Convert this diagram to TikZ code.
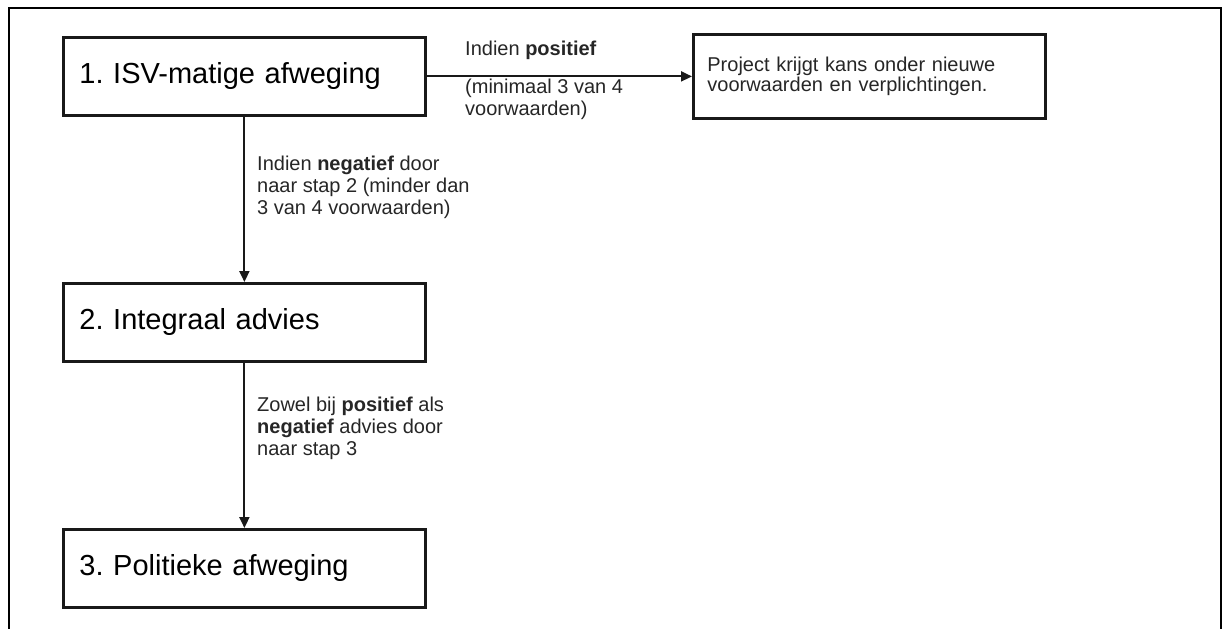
\documentclass[tikz,border=0pt]{standalone}
\usepackage{fontspec}
\setmainfont{Liberation Sans}
\usetikzlibrary{arrows.meta}
\frenchspacing
\begin{document}
\begin{tikzpicture}[x=1pt,y=-1pt,
  stepbox/.style={draw=black!90,line width=2.8pt,rectangle,inner xsep=16pt,inner ysep=0pt,
    minimum width=362pt,minimum height=78pt,text width=330pt,align=left,
    font=\fontsize{29}{34}\selectfont,anchor=north west},
  resbox/.style={draw=black!90,line width=2.8pt,rectangle,inner xsep=14pt,inner ysep=0pt,
    minimum width=352pt,minimum height=84pt,text width=324pt,align=left,
    font=\fontsize{20}{20}\selectfont,text=black!85,anchor=north west},
  lbl/.style={inner sep=0pt,align=left,anchor=west,text=black!85,
    font=\fontsize{20}{22}\selectfont},
  conn/.style={draw=black!90,line width=2pt,-{Triangle[length=11pt,width=10pt]}}]
\useasboundingbox (0,0) rectangle (1224,629);
\draw[line width=2.6pt] (9,660) -- (9,8) -- (1221,8) -- (1221,660);
\node[stepbox] (s1) at (62,36) {1. ISV-matige afweging};
\node[stepbox] (s2) at (62,282) {2. Integraal advies};
\node[stepbox] (s3) at (62,528) {3. Politieke afweging};
\node[resbox] (r) at (692,33) {Project krijgt kans onder nieuwe\\voorwaarden en verplichtingen.};
\draw[conn] (s1.east) -- (r.west |- s1.east);
\draw[conn] (s1.south) -- (s2.north);
\draw[conn] (s2.south) -- (s3.north);
\node[lbl] (lp) at (465,50) {Indien \textbf{positief}};
\node[lbl] (lc) at (465,99) {(minimaal 3 van 4\\voorwaarden)};
\node[lbl] (ln) at (257,187) {Indien \textbf{negatief} door\\naar stap 2 (minder dan\\3 van 4 voorwaarden)};
\node[lbl] (lz) at (257,428) {Zowel bij \textbf{positief} als\\\textbf{negatief} advies door\\naar stap 3};
\end{tikzpicture}
\end{document}
